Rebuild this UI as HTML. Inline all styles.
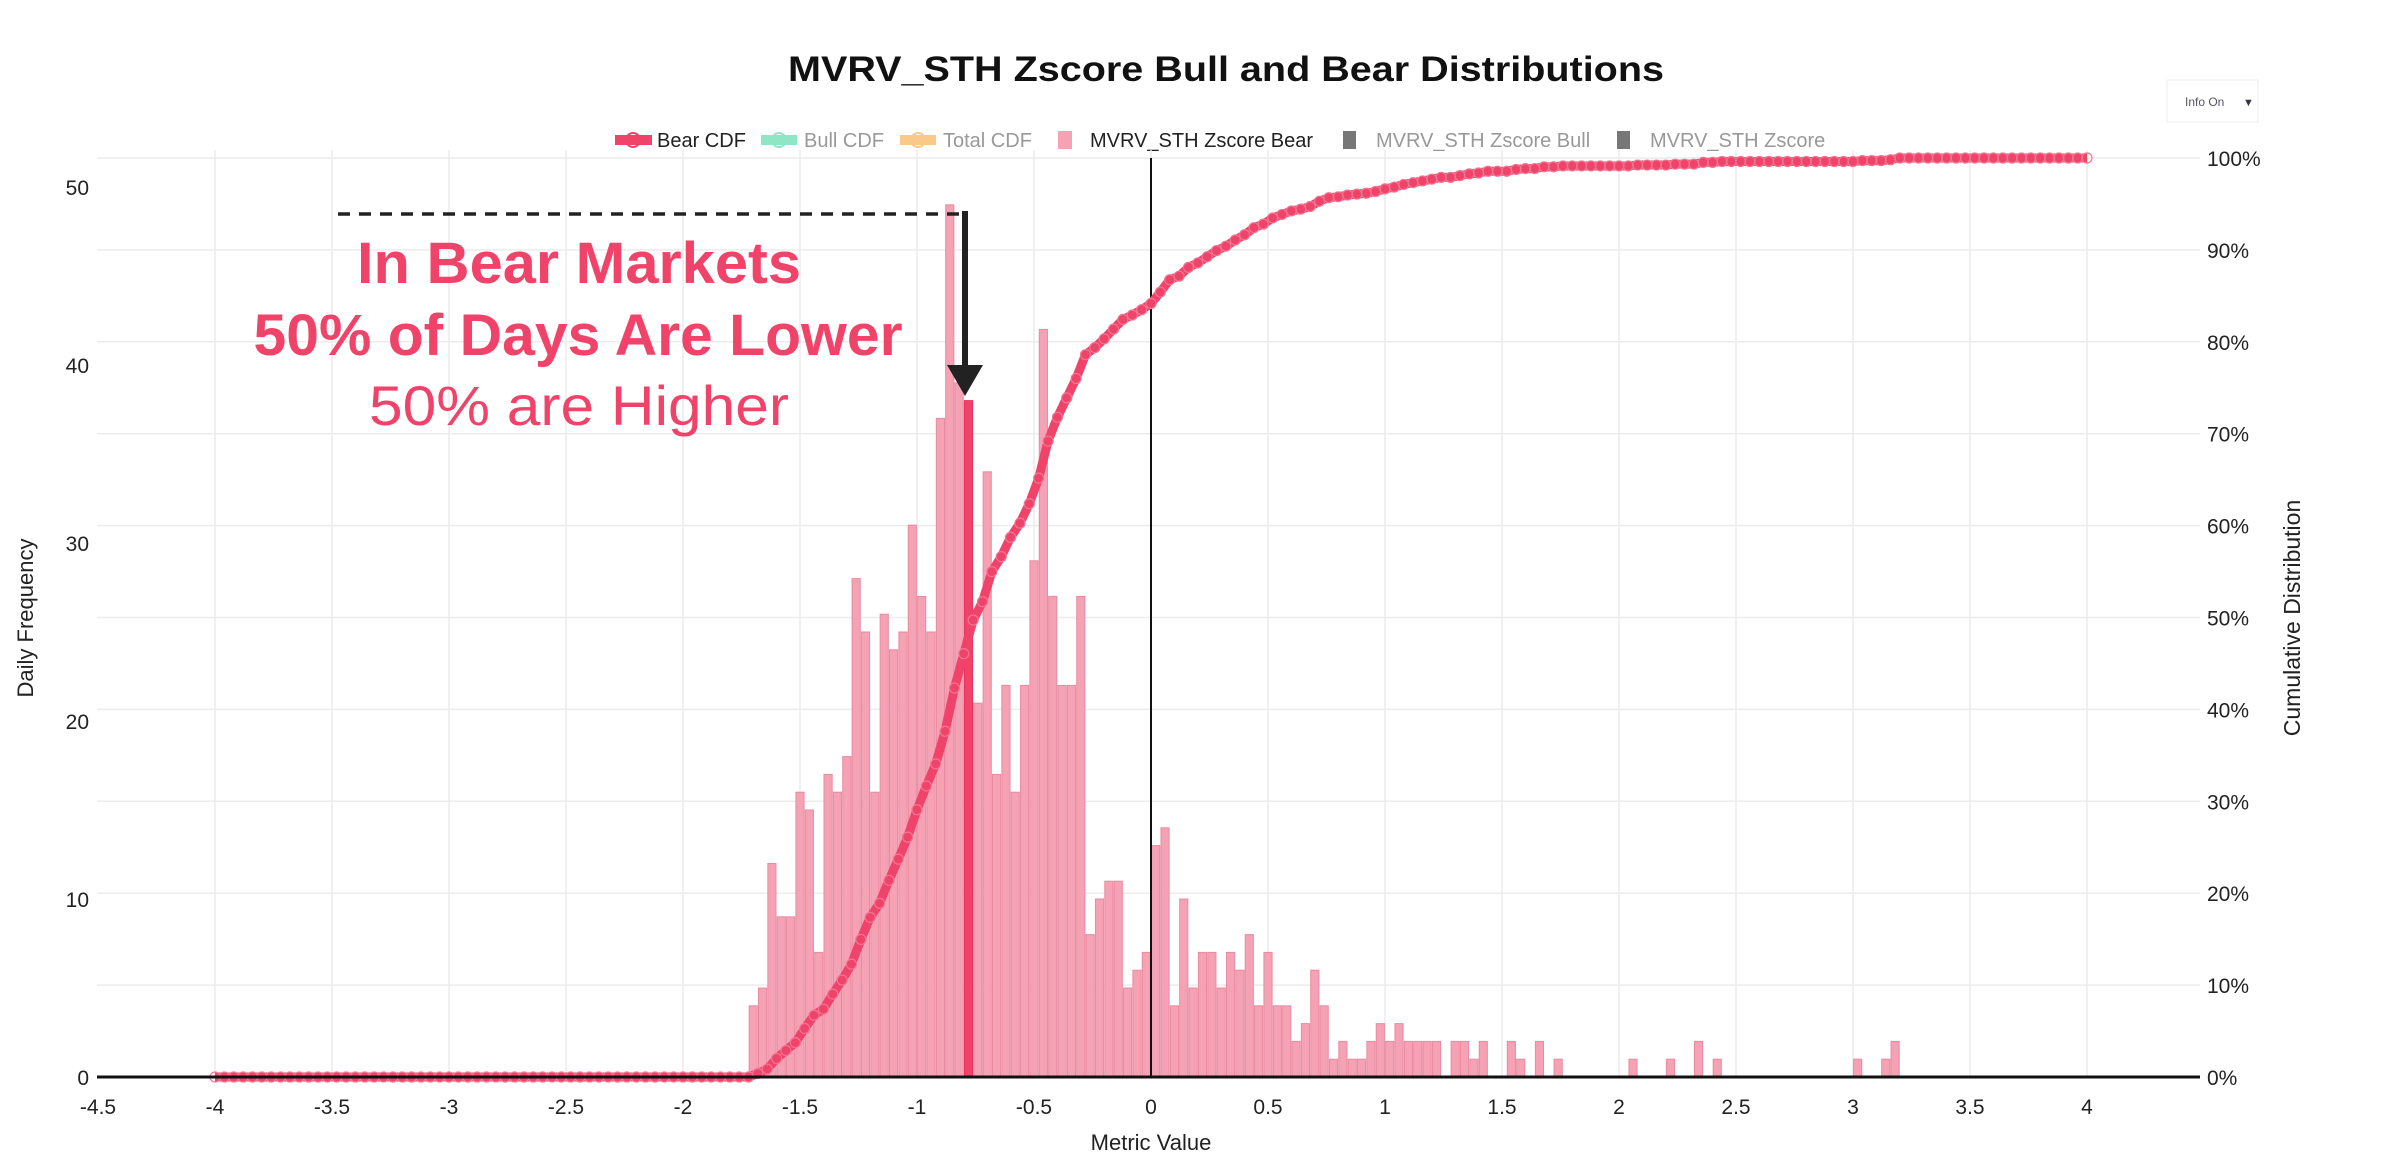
<!DOCTYPE html>
<html><head><meta charset="utf-8">
<style>
html,body{margin:0;padding:0;background:#fff;}
svg{display:block;font-family:"Liberation Sans",sans-serif;}
</style></head>
<body>
<svg id="chart" width="2400" height="1171" viewBox="0 0 2400 1171">
  <text x="1226" y="81" text-anchor="middle" font-size="35" font-weight="bold" fill="#111" textLength="876" lengthAdjust="spacingAndGlyphs">MVRV_STH Zscore Bull and Bear Distributions</text>
  <g>
    <rect x="2167" y="80" width="91" height="42" fill="#fff" stroke="#eee"/>
    <text x="2185" y="106" font-size="12" fill="#556">Info On</text>
    <text x="2243" y="106" font-size="11" fill="#334">▼</text>
  </g>
  <g id="legend" font-size="20">
    <g>
      <line x1="615" y1="140" x2="652" y2="140" stroke="#f0436a" stroke-width="10"/>
      <circle cx="633" cy="140" r="7" fill="none" stroke="#f0436a" stroke-width="2"/>
      <text x="657" y="147" fill="#222">Bear CDF</text>
    </g>
    <g>
      <line x1="761" y1="140" x2="797" y2="140" stroke="#8ee6c4" stroke-width="10"/>
      <circle cx="779" cy="140" r="7" fill="none" stroke="#8ee6c4" stroke-width="2"/>
      <text x="804" y="147" fill="#999">Bull CDF</text>
    </g>
    <g>
      <line x1="900" y1="140" x2="936" y2="140" stroke="#f9c98a" stroke-width="10"/>
      <circle cx="918" cy="140" r="7" fill="none" stroke="#f9c98a" stroke-width="2"/>
      <text x="943" y="147" fill="#999">Total CDF</text>
    </g>
    <g>
      <rect x="1058" y="131" width="14" height="18" fill="#f6a2b5"/>
      <text x="1090" y="147" fill="#222">MVRV_STH Zscore Bear</text>
    </g>
    <g>
      <rect x="1343" y="131" width="13" height="18" fill="#777"/>
      <text x="1376" y="147" fill="#999">MVRV_STH Zscore Bull</text>
    </g>
    <g>
      <rect x="1617" y="131" width="13" height="18" fill="#777"/>
      <text x="1650" y="147" fill="#999">MVRV_STH Zscore</text>
    </g>
  </g>
  <g id="grid"></g>
  <g id="bars"></g>
  <line x1="1151" y1="158" x2="1151" y2="1077" stroke="#111" stroke-width="2"/>
  <g id="cdf"></g>
  <line x1="97" y1="1077" x2="2200" y2="1077" stroke="#111" stroke-width="3"/>
  <g id="xticks" font-size="21" fill="#222"></g>
  <g id="yticks" font-size="21" fill="#222"></g>
  <g id="y2ticks" font-size="21" fill="#222"></g>
  <text x="1151" y="1150" text-anchor="middle" font-size="22" fill="#222">Metric Value</text>
  <text transform="translate(33,618) rotate(-90)" text-anchor="middle" font-size="22" fill="#222">Daily Frequency</text>
  <text transform="translate(2300,618) rotate(-90)" text-anchor="middle" font-size="23" fill="#222">Cumulative Distribution</text>
  <g>
    <line x1="338" y1="214" x2="965" y2="214" stroke="#222" stroke-width="3.5" stroke-dasharray="12,9"/>
    <line x1="965" y1="211" x2="965" y2="370" stroke="#222" stroke-width="6"/>
    <polygon points="947,365 983,365 965,396" fill="#222"/>
    <text x="579" y="283" text-anchor="middle" font-size="58" font-weight="bold" fill="#f0436a" textLength="444" lengthAdjust="spacingAndGlyphs">In Bear Markets</text>
    <text x="578" y="355" text-anchor="middle" font-size="58" font-weight="bold" fill="#f0436a" textLength="649" lengthAdjust="spacingAndGlyphs">50% of Days Are Lower</text>
    <text x="579" y="425" text-anchor="middle" font-size="56" fill="#f0436a" textLength="420" lengthAdjust="spacingAndGlyphs">50% are Higher</text>
  </g>
</svg>
<script>
const binStart = -1.72;
const binWidth = 0.04;
const bearCounts = [4,5,12,9,9,16,15,7,17,16,18,28,25,16,26,24,25,31,27,25,37,49,39,38,21,34,17,22,16,22,29,42,27,22,22,27,8,10,11,11,5,6,7,13,14,4,10,5,7,7,5,7,6,8,4,7,4,4,2,3,6,4,1,2,1,1,2,3,2,3,2,2,2,2,0,2,2,1,2,0,0,2,1,0,2,0,1,0,0,0,0,0,0,0,1,0,0,0,1,0,0,2,0,1,0,0,0,0,0,0,0,0,0,0,0,0,0,0,1,0,0,1,2];
const medianBin = 23;
const xTicks = [-4.5,-4,-3.5,-3,-2.5,-2,-1.5,-1,-0.5,0,0.5,1,1.5,2,2.5,3,3.5,4];
const xTickLabels = ["-4.5","-4","-3.5","-3","-2.5","-2","-1.5","-1","-0.5","0","0.5","1","1.5","2","2.5","3","3.5","4"];
const yTicks = [0,10,20,30,40,50];
const y2Ticks = [0,10,20,30,40,50,60,70,80,90,100];
const cdfRange = [-4.0, 4.0];

const NS = "http://www.w3.org/2000/svg";
const X = v => 1151 + 234 * v;
const Y = c => 1077 - 17.8 * c;
const Y2 = p => 1077 - 9.19 * p;
function mk(tag, attrs, parent){ const e=document.createElementNS(NS,tag); for(const k in attrs) e.setAttribute(k,attrs[k]); parent.appendChild(e); return e; }

const grid = document.getElementById('grid');
y2Ticks.forEach(p => { if(p===0) return;
  const l = mk('line',{x1:97,x2:2200,y1:Y2(p),y2:Y2(p),stroke:'#ececec','stroke-width':1.5},grid);
  
  
});
xTicks.forEach(v => { if(v===-4.5) return;
  const l = mk('line',{x1:X(v),x2:X(v),y1:150,y2:1077,stroke:'#ececec','stroke-width':1.5},grid);
  
  
});

const barsG = document.getElementById('bars');
bearCounts.forEach((c,i) => { if(c<=0) return;
  const left = X(binStart + i*binWidth);
  const w = 234*binWidth;
  const hi = i===medianBin;
  const r = mk('rect',{x:left+0.6,y:Y(c),width:w-1.2,height:Y(0)-Y(c),fill:hi?'#f0436a':'#f6a2b5',stroke:hi?'#e8335c':'#e98aa1','stroke-width':1},barsG);
  
  
});

const total = bearCounts.reduce((a,b)=>a+b,0);
const cdfG = document.getElementById('cdf');
const pts = [];
const kStart = Math.round((cdfRange[0]-binStart)/binWidth);
const kEnd = Math.round((cdfRange[1]-binStart)/binWidth);
for(let k=kStart;k<=kEnd;k++){
  let cum=0; for(let j=0;j<Math.min(k,bearCounts.length);j++) cum+=bearCounts[j];
  pts.push([X(binStart+k*binWidth), Y2(100*cum/total)]);
}
const path = mk('polyline',{points:pts.map(p=>p.join(',')).join(' '),fill:'none',stroke:'#f0436a','stroke-width':9,'stroke-linejoin':'round'},cdfG);


pts.forEach(p => {
  const c = mk('circle',{cx:p[0],cy:p[1],r:5,fill:'none',stroke:'#f27592','stroke-width':1.2},cdfG);
  
  
});

const xt = document.getElementById('xticks');
xTicks.forEach((v,i) => {
  const t = mk('text',{x:X(v),y:1114,'text-anchor':'middle'},xt);
  t.textContent = xTickLabels[i];
  
  
});
const yt = document.getElementById('yticks');
yTicks.forEach(v => {
  const t = mk('text',{x:89,y:Y(v)+8,'text-anchor':'end'},yt);
  t.textContent = v;
  
  
});
const y2t = document.getElementById('y2ticks');
y2Ticks.forEach(v => {
  const t = mk('text',{x:2207,y:Y2(v)+8},y2t);
  t.textContent = v + '%';
  
  
});
</script>
</body></html>
